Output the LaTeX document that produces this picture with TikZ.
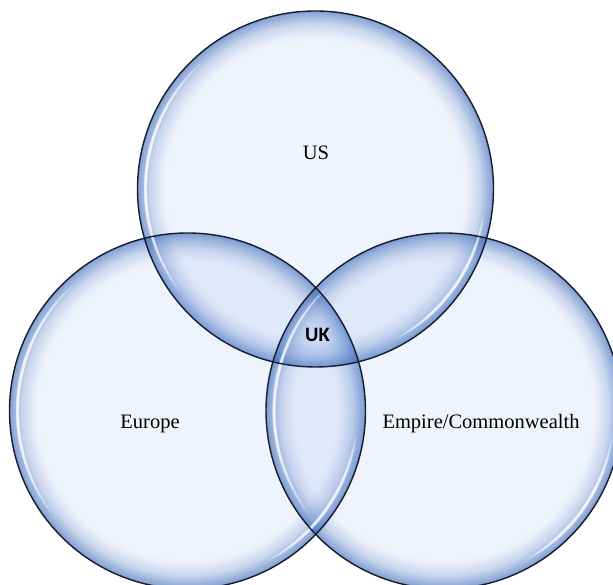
\documentclass[tikz,border=0pt]{standalone}
\usepackage{fontspec}
\setmainfont{Liberation Serif}
\newfontfamily\ukfont{Carlito}
\definecolor{bubblebase}{RGB}{50,110,220}
\definecolor{bubblerim}{RGB}{55,100,185}
\definecolor{bubbleline}{RGB}{20,28,45}
\begin{document}
\begin{tikzpicture}[x=1pt,y=1pt,
  setname/.style={font=\fontsize{20.5}{21}\selectfont, text=black, anchor=base, inner sep=0pt},
  corename/.style={font=\ukfont\bfseries\fontsize{20.5}{21}\selectfont, text=black, anchor=base, inner sep=0pt},
  rimline/.style={bubbleline, line width=1.4pt},
  gloss/.style={white, line cap=round, draw opacity=0.17}]
\useasboundingbox (0,0) rectangle (613,585);
\clip (0,0) rectangle (613,585);
\def\R{178}
\def\N{32}
% three equal discs: US (top), Europe (left), Empire/Commonwealth (right)
\def\discs{315.5/396, 187.5/174, 444/174}
% rim darkness at depth d: A(d) = 0.6 (1 - d/N)^2, built from nested rings
\pgfmathdeclarefunction{rimA}{1}{\pgfmathparse{0.6*(1-#1/\N)^2}}
\foreach \cx/\cy in \discs {
  \fill[bubblebase, fill opacity=0.08] (\cx,\cy) circle[radius=\R];
  \foreach \i in {1,...,\N} {
    \pgfmathsetmacro\op{(rimA(\i-1)-rimA(\i))/(1-rimA(\i))}
    \fill[bubblerim, fill opacity=\op, even odd rule]
      (\cx,\cy) circle[radius=\R] (\cx,\cy) circle[radius=\R-\i];
  }
}
% glossy highlights just inside the rim, stacked arcs tapering at the ends
\foreach \cx/\cy in \discs {
  \foreach \k in {0,...,9} {
    \pgfmathsetmacro\hw{42*sqrt(1-\k/10)}
    \pgfmathsetmacro\lw{1.6+0.22*\k}
    \draw[gloss, line width=\lw pt]
      (\cx,\cy) ++(175-\hw:\R-8) arc[start angle=175-\hw, end angle=175+\hw, radius=\R-8];
    \pgfmathsetmacro\hw{26*sqrt(1-\k/10)}
    \draw[gloss, line width=\lw pt]
      (\cx,\cy) ++(-35-\hw:\R-8) arc[start angle=-35-\hw, end angle=-35+\hw, radius=\R-8];
  }
}
% outlines
\foreach \cx/\cy in \discs {
  \draw[rimline] (\cx,\cy) circle[radius=\R];
}
% labels
\node[setname] (us) at (316,425.7) {US};
\node[setname] (europe) at (150,156.5) {Europe};
\node[setname] (empire) at (481,156.5) {Empire/Commonwealth};
\node[corename] (uk) at (317.5,243.3) {UK};
\end{tikzpicture}
\end{document}
